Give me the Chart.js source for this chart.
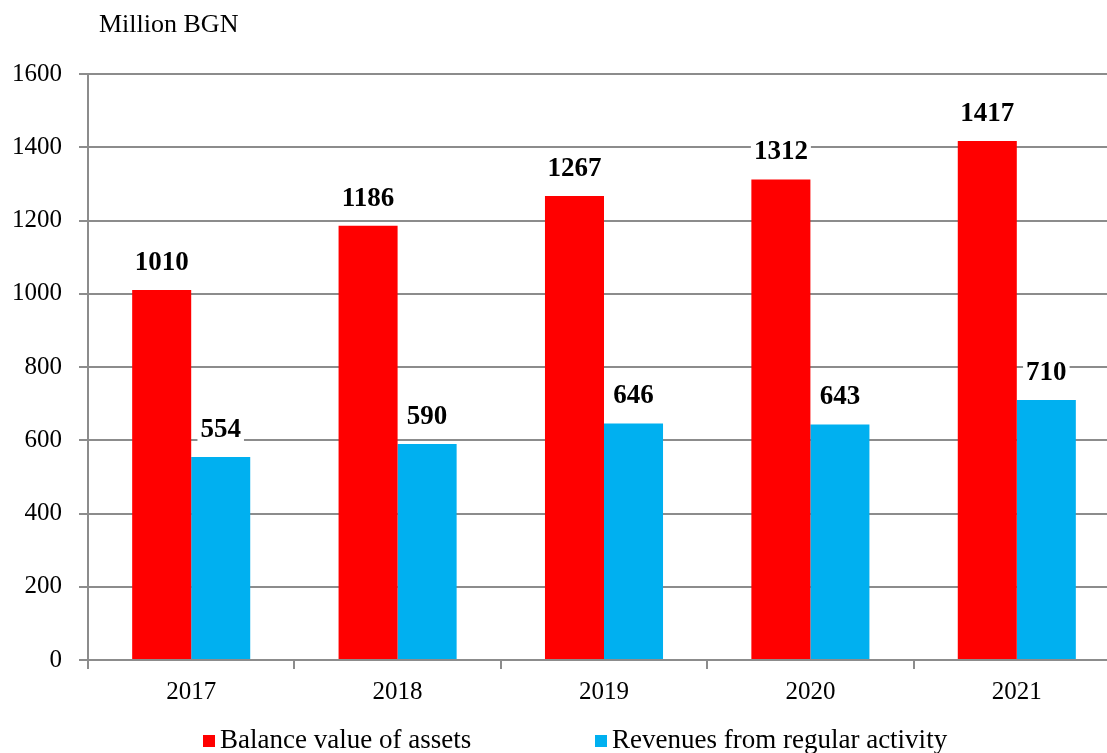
<!DOCTYPE html>
<html><head><meta charset="utf-8">
<script src="https://cdn.jsdelivr.net/npm/chart.js@4"></script>
<style>html,body{margin:0;padding:0;overflow:hidden;background:#fff}
#wrap{position:absolute;left:0;top:0;width:1130px;height:753px}</style>
</head><body><div id="wrap"><canvas id="c" width="1130" height="753"></canvas></div>
<script>
const categories = ['2017', '2018', '2019', '2020', '2021'];
const balanceValues = [1010, 1186, 1267, 1312, 1417];
const revenueValues = [554, 590, 646, 643, 710];
const yMin = 0, yMax = 1600, yStep = 200;
const seriesNames = ['Balance value of assets', 'Revenues from regular activity'];
const seriesColors = ['#FF0000', '#00B0F0'];
const unitLabel = 'Million BGN';

const FONT = '"Liberation Serif", "Times New Roman", serif';
const GRID = '#8c8c8c';

const extras = {
  id: 'extras',
  afterDatasetsDraw(chart) {
    const ctx = chart.ctx;
    ctx.save();
    ctx.font = 'bold 27px ' + FONT;
    ctx.textAlign = 'center';
    ctx.textBaseline = 'middle';
    chart.data.datasets.forEach((ds, di) => {
      const meta = chart.getDatasetMeta(di);
      meta.data.forEach((bar, i) => {
        const txt = String(ds.data[i]);
        const w = ctx.measureText(txt).width;
        const cy = bar.y - 27;
        ctx.fillStyle = '#fff';
        ctx.fillRect(bar.x - w / 2 - 3, cy - 13, w + 6, 26);
        ctx.fillStyle = '#000';
        ctx.fillText(txt, bar.x, cy);
      });
    });
    ctx.restore();
  },
  afterDraw(chart) {
    const ctx = chart.ctx;
    ctx.save();
    ctx.fillStyle = '#000';
    ctx.font = '26px ' + FONT;
    ctx.textAlign = 'left';
    ctx.textBaseline = 'middle';
    ctx.fillText(unitLabel, 99, 25);
    // legend
    const items = [{x: 203}, {x: 595}];
    ctx.font = '27px ' + FONT;
    items.forEach((it, i) => {
      ctx.fillStyle = seriesColors[i];
      ctx.fillRect(it.x, 735, 12, 12);
      ctx.fillStyle = '#000';
      ctx.fillText(seriesNames[i], it.x + 17, 741);
    });
    ctx.restore();
  }
};

new Chart(document.getElementById('c'), {
  type: 'bar',
  data: {
    labels: categories,
    datasets: [
      {label: seriesNames[0], data: balanceValues, backgroundColor: seriesColors[0], borderWidth: 0,
       categoryPercentage: 0.572, barPercentage: 1},
      {label: seriesNames[1], data: revenueValues, backgroundColor: seriesColors[1], borderWidth: 0,
       categoryPercentage: 0.572, barPercentage: 1}
    ]
  },
  options: {
    responsive: false,
    animation: false,
    layout: {padding: {left: 0, top: 74, right: 10, bottom: 0}},
    plugins: {legend: {display: false}, title: {display: false}, tooltip: {enabled: false}},
    scales: {
      x: {
        grid: {offset: true, drawOnChartArea: false, drawTicks: true, tickLength: 9, color: GRID, lineWidth: 2},
        border: {display: true, color: GRID, width: 2},
        ticks: {font: {family: FONT, size: 25}, color: '#000', padding: 8},
        afterFit(s) { s.height = 93; }
      },
      y: {
        min: yMin, max: yMax,
        grid: {color: GRID, lineWidth: 2, tickLength: 9, drawTicks: true},
        border: {display: true, color: GRID, width: 2},
        ticks: {stepSize: yStep, font: {family: FONT, size: 25}, color: '#000', padding: 17,
                callback: (v) => String(v)},
        afterFit(s) { s.width = 88; }
      }
    }
  },
  plugins: [extras]
});
</script></body></html>
